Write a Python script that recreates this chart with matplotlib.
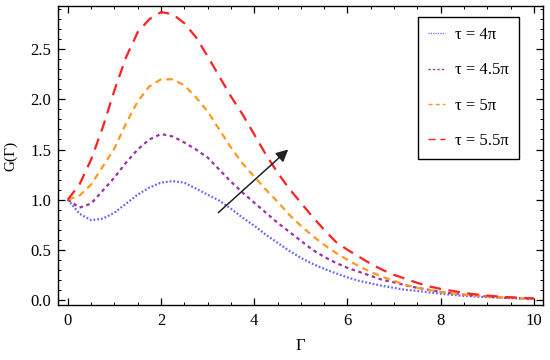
import numpy as np
import matplotlib
matplotlib.use("Agg")
import matplotlib.pyplot as plt
from matplotlib.ticker import MultipleLocator

# === Data ===
gamma = np.arange(0, 10.01, 0.25)

g_4pi = [1.00, 0.86, 0.795, 0.81, 0.87, 0.96, 1.05, 1.12, 1.17, 1.185, 1.17,
         1.11, 1.05, 0.99, 0.91, 0.82, 0.74, 0.65, 0.57, 0.49, 0.42, 0.36,
         0.31, 0.265, 0.225, 0.19, 0.165, 0.14, 0.12, 0.10, 0.09, 0.075, 0.062,
         0.05, 0.04, 0.033, 0.027, 0.022, 0.018, 0.014, 0.011]
g_45pi = [1.00, 0.92, 0.96, 1.09, 1.22, 1.37, 1.50, 1.60, 1.655, 1.63, 1.57,
          1.50, 1.42, 1.30, 1.18, 1.07, 0.97, 0.87, 0.77, 0.68, 0.59, 0.50,
          0.43, 0.37, 0.32, 0.28, 0.24, 0.20, 0.175, 0.145, 0.12, 0.10, 0.08,
          0.065, 0.052, 0.042, 0.034, 0.027, 0.021, 0.016, 0.012]
g_5pi = [1.00, 1.04, 1.15, 1.33, 1.51, 1.76, 1.98, 2.13, 2.20, 2.20, 2.14,
         2.02, 1.88, 1.70, 1.52, 1.36, 1.23, 1.10, 0.98, 0.85, 0.74, 0.64,
         0.55, 0.47, 0.40, 0.335, 0.28, 0.23, 0.19, 0.15, 0.12, 0.10, 0.08,
         0.065, 0.052, 0.042, 0.034, 0.027, 0.022, 0.017, 0.013]
g_55pi = [1.00, 1.15, 1.40, 1.72, 2.09, 2.42, 2.67, 2.80, 2.87, 2.85, 2.76,
          2.62, 2.43, 2.23, 2.03, 1.85, 1.65, 1.45, 1.27, 1.11, 0.97, 0.83,
          0.70, 0.58, 0.50, 0.43, 0.36, 0.30, 0.25, 0.21, 0.17, 0.135, 0.11,
          0.09, 0.07, 0.055, 0.043, 0.033, 0.026, 0.02, 0.015]

labels = ["τ = 4π", "τ = 4.5π", "τ = 5π", "τ = 5.5π"]
series = [g_4pi, g_45pi, g_5pi, g_55pi]
colors = ["#6464ff", "#9933a8", "#ff9922", "#ff2222"]
dashes = [(0.8, 0.9), (1.6, 1.6), (3.0, 2.2), (5.2, 3.4)]

arrow_start = (3.23, 0.87)
arrow_end = (4.73, 1.50)

plt.rcParams["font.family"] = ["Liberation Serif", "DejaVu Serif"]
plt.rcParams["font.size"] = 12

fig = plt.figure(figsize=(5.5, 3.6), dpi=100)
ax = fig.add_axes([0.1055, 0.153, 0.882, 0.830])

for y, lab, c, d in zip(series, labels, colors, dashes):
    ax.plot(gamma, y, color=c, lw=1.6, dashes=d, label=lab)

ax.annotate("", xy=arrow_end, xytext=arrow_start,
            arrowprops=dict(arrowstyle="-|>", color="#222222", lw=1.1,
                            mutation_scale=18, shrinkA=0, shrinkB=0))

ax.set_xlim(-0.21, 10.2)
ax.set_ylim(-0.05, 2.93)
ax.xaxis.set_major_locator(MultipleLocator(2))
ax.xaxis.set_minor_locator(MultipleLocator(0.5))
ax.yaxis.set_major_locator(MultipleLocator(0.5))
ax.yaxis.set_minor_locator(MultipleLocator(0.1))
ax.tick_params(which="both", direction="in", top=True, right=True,
               labelsize=12)
ax.tick_params(which="major", length=5, width=0.9)
ax.tick_params(axis="x", which="major", pad=6)
ax.tick_params(axis="y", which="major", pad=5)
ax.tick_params(which="minor", length=2.5, width=0.7)
ax.yaxis.set_major_formatter(plt.FormatStrFormatter("%.1f"))
for s in ax.spines.values():
    s.set_linewidth(1.0)

ax.set_xlabel("Γ", fontsize=12, labelpad=6)
ax.set_ylabel("G(Γ)", fontsize=11, labelpad=9)

leg = ax.legend(loc="upper left", bbox_to_anchor=(0.742, 0.963),
                handlelength=1.0, handletextpad=0.65, labelspacing=1.15,
                borderpad=0.6, fancybox=False, framealpha=1,
                edgecolor="black", fontsize=12, borderaxespad=0)
leg.get_frame().set_linewidth(1.0)
for line in leg.get_lines():
    line.set_linewidth(1.0)

fig.savefig("out.png", dpi=100)
